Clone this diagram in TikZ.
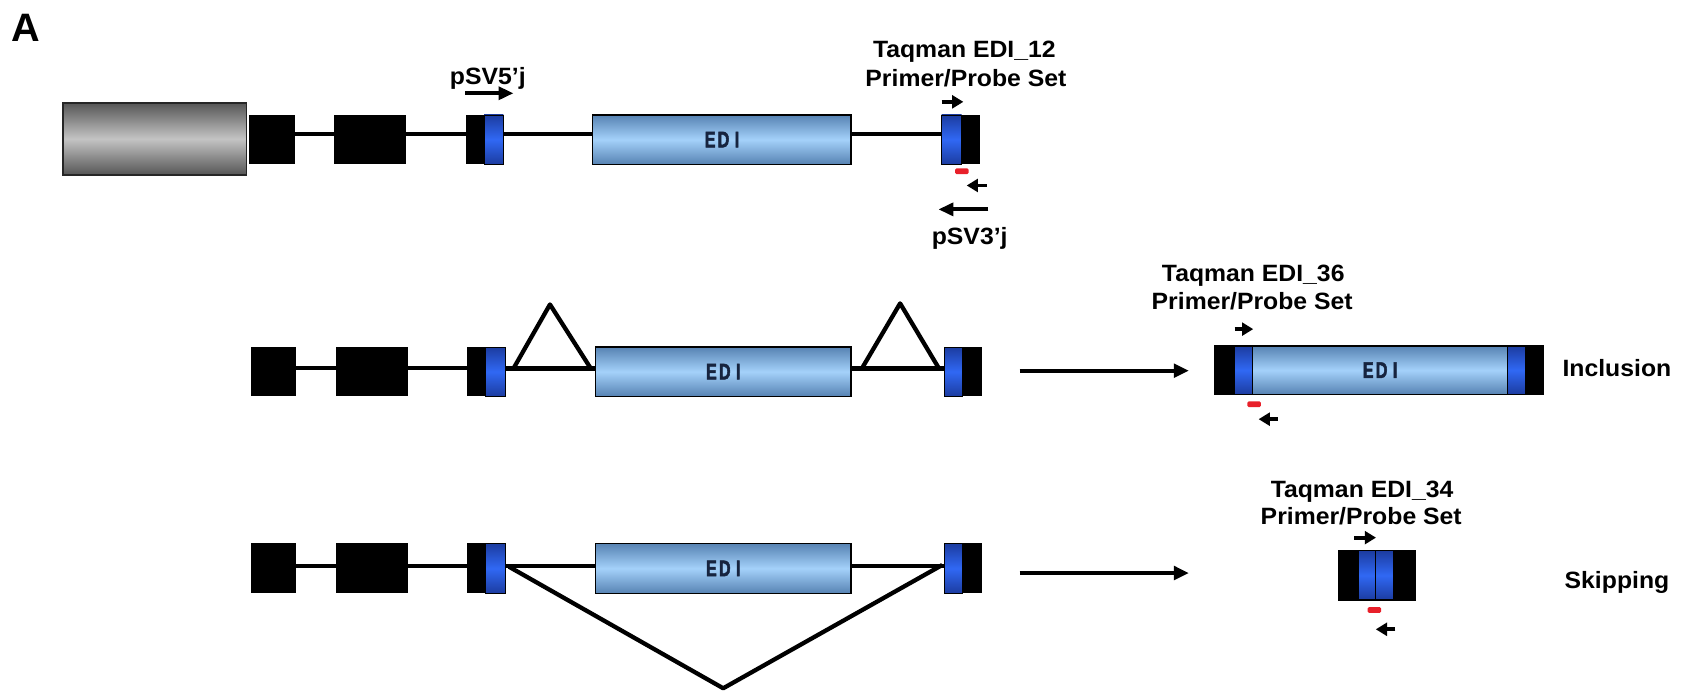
\documentclass[tikz,border=0pt]{standalone}
\usepackage{fontspec}
\setmainfont{Liberation Sans}
\newfontfamily\edifont[FakeStretch=0.72,FakeBold=2.2]{Liberation Sans Bold}
\newfontfamily\lblfont[FakeStretch=1.05]{Liberation Sans Bold}
\usetikzlibrary{arrows.meta,calc}
\definecolor{edidark}{HTML}{5783B3}
\definecolor{edilight}{HTML}{A4D1FA}
\definecolor{bluedark}{HTML}{1C3CA0}
\definecolor{bluelight}{HTML}{3068F4}
\definecolor{grdark}{HTML}{565656}
\definecolor{grlight}{HTML}{C4C4C4}
\definecolor{edtext}{HTML}{17243F}
\definecolor{probered}{HTML}{E8202A}
\begin{document}
\begin{tikzpicture}[x=1pt,y=-1pt,
  box/.style={rectangle,inner sep=0pt,outer sep=0pt},
  blk/.style={box,fill=black},
  greybox/.style={box,draw=black!85,line width=1.6pt,top color=grdark,bottom color=grdark,middle color=grlight},
  edibox/.style={box,draw=black,line width=1.2pt,top color=edidark,bottom color=edidark,middle color=edilight,
     font=\edifont\fontsize{21}{21}\selectfont,text=edtext},
  bluebox/.style={box,draw=black,line width=0.7pt,top color=bluedark,bottom color=bluedark,middle color=bluelight},
  probe/.style={box,fill=probered,minimum width=12.5pt,minimum height=5.3pt,rounded corners=1.2pt},
  intron/.style={line width=3.6pt},
  splice/.style={line width=4pt,line join=round},
  longarr/.style={line width=3.8pt,-{Triangle[length=14pt,width=12pt]}},
  bigarr/.style={line width=3.6pt,-{Triangle[length=14pt,width=12.5pt]}},
  smallarr/.style={line width=3.6pt,-{Triangle[length=10.5pt,width=12pt]}},
  lbl/.style={font=\lblfont\fontsize{22}{22}\selectfont,inner sep=0pt,outer sep=0pt,anchor=base}
]
\useasboundingbox (0,0) rectangle (1568,647);

\node[font=\bfseries\fontsize{37}{37}\selectfont,inner sep=0pt,anchor=base west] (panel) at (10.5,39) {A};

% ---------------- Row 1 ----------------
\coordinate (l1) at (0,125);
\node[greybox,minimum width=171pt,minimum height=67pt] (g1) at (144.5,129.5) {};
\node[blk,minimum width=42.3pt,minimum height=46pt] (a1) at (253.8,130.2) {};
\node[blk,minimum width=66.9pt,minimum height=46pt] (b1) at (345.4,130.2) {};
\node[blk,minimum width=35.2pt,minimum height=46pt] (c1) at (452,130.2) {};
\node[bluebox,minimum width=18pt,minimum height=46pt] (c1b) at (460.6,130.2) {};
\node[edibox,minimum width=240.9pt,minimum height=46pt] (d1) at (673.4,130.2) {E\hspace{2pt}D\hspace{5pt}I};
\node[blk,minimum width=35.8pt,minimum height=46pt] (e1) at (896.3,130.2) {};
\node[bluebox,minimum width=18.6pt,minimum height=46pt] (e1b) at (887.7,130.2) {};
\draw[intron] (a1.east |- l1) -- (b1.west |- l1);
\draw[intron] (b1.east |- l1) -- (c1.west |- l1);
\draw[intron] (c1.east |- l1) -- (d1.west |- l1);
\draw[intron] (d1.east |- l1) -- (e1.west |- l1);

\node[lbl] (p5) at (455,79) {pSV5’j};
\coordinate (p5s) at (434,87);
\coordinate (p5e) at (479,87);
\draw[longarr] (p5s) -- (p5e);

\node[lbl] (t12a) at (899.5,54) {Taqman EDI\_12};
\node[lbl] (t12b) at (901,80.5) {Primer/Probe Set};
\coordinate (f1s) at (878.4,95); \coordinate (f1e) at (898.6,95);
\draw[smallarr] (f1s) -- (f1e);
\node[probe] (r1) at (897.2,159.7) {};
\coordinate (q1s) at (920.4,173); \coordinate (q1e) at (901.7,173);
\draw[smallarr] (q1s) -- (q1e);
\coordinate (p3s) at (922,195.3); \coordinate (p3e) at (875.3,195.3);
\draw[longarr] (p3s) -- (p3e);
\node[lbl] (p3) at (904.5,228.5) {pSV3’j};

% ---------------- Row 2 ----------------
\coordinate (l2) at (0,343.6);
\node[blk,minimum width=42pt,minimum height=46pt] (a2) at (255.5,346.7) {};
\node[blk,minimum width=68pt,minimum height=46pt] (b2) at (347,346.7) {};
\node[blk,minimum width=35.5pt,minimum height=46pt] (c2) at (453.6,346.7) {};
\node[bluebox,minimum width=18.6pt,minimum height=46pt] (c2b) at (462.1,346.7) {};
\node[edibox,minimum width=238.2pt,minimum height=46pt] (d2) at (674.6,346.7) {E\hspace{2pt}D\hspace{5pt}I};
\node[blk,minimum width=35pt,minimum height=46pt] (e2) at (898.4,346.7) {};
\node[bluebox,minimum width=16.5pt,minimum height=46pt] (e2b) at (889.2,346.7) {};
\draw[intron] (a2.east |- l2) -- (b2.west |- l2);
\draw[intron] (b2.east |- l2) -- (c2.west |- l2);
\draw[splice] (c2.east |- l2) -- (d2.west |- l2);
\draw[splice] (d2.east |- l2) -- (e2.west |- l2);
\coordinate (tl1) at (479,343.6); \coordinate (tl2) at (513,284); \coordinate (tl3) at (551,343.6);
\coordinate (tr1) at (804,343.6); \coordinate (tr2) at (839.6,283); \coordinate (tr3) at (875.8,343.6);
\draw[splice] (tl1) -- (tl2) -- (tl3);
\draw[splice] (tr1) -- (tr2) -- (tr3);

\node[box,fill=black,minimum width=306.7pt,minimum height=45pt] (inc) at (1286.7,345.3) {};
\node[bluebox,minimum width=17pt,minimum height=45pt] (incl) at (1160.1,345.3) {};
\node[edibox,line width=0.8pt,minimum width=237.4pt,minimum height=45pt] (incm) at (1287.3,345.3) {E\hspace{2pt}D\hspace{5pt}I};
\node[bluebox,minimum width=17pt,minimum height=45pt] (incr) at (1414.5,345.3) {};
\draw[line width=1.2pt] (inc.north west) rectangle (inc.south east);
\coordinate (i2s) at (951,345.8); \coordinate (i2e) at (1109,345.8);
\draw[bigarr] (i2s) -- (i2e);
\node[lbl] (t36a) at (1169,262.8) {Taqman EDI\_36};
\node[lbl] (t36b) at (1168,288.6) {Primer/Probe Set};
\coordinate (f2s) at (1151.6,307); \coordinate (f2e) at (1169,307);
\draw[smallarr] (f2s) -- (f2e);
\node[probe] (r2) at (1169.8,377) {};
\coordinate (q2s) at (1192,391); \coordinate (q2e) at (1174,391);
\draw[smallarr] (q2s) -- (q2e);
\node[lbl,anchor=base west] (incl-lbl) at (1457.5,351.4) {Inclusion};

% ---------------- Row 3 ----------------
\coordinate (l3) at (0,527.7);
\node[blk,minimum width=42pt,minimum height=46.5pt] (a3) at (255.5,530.2) {};
\node[blk,minimum width=68pt,minimum height=46.5pt] (b3) at (347,530.2) {};
\node[blk,minimum width=35.5pt,minimum height=46.5pt] (c3) at (453.6,530.2) {};
\node[bluebox,minimum width=18.6pt,minimum height=46.5pt] (c3b) at (462.1,530.2) {};
\node[edibox,minimum width=238.2pt,minimum height=46.5pt] (d3) at (674.6,530.2) {E\hspace{2pt}D\hspace{5pt}I};
\node[blk,minimum width=35pt,minimum height=46.5pt] (e3) at (898.4,530.2) {};
\node[bluebox,minimum width=16.5pt,minimum height=46.5pt] (e3b) at (889.2,530.2) {};
\draw[intron] (a3.east |- l3) -- (b3.west |- l3);
\draw[intron] (b3.east |- l3) -- (c3.west |- l3);
\draw[splice] (c3.east |- l3) -- (d3.west |- l3);
\draw[splice] (d3.east |- l3) -- (e3.west |- l3);
\coordinate (v1) at (474.7,528.6); \coordinate (v2) at (674.6,642); \coordinate (v3) at (878.9,527);
\draw[splice] (v1) -- (v2) -- (v3);

\node[box,fill=black,minimum width=70.9pt,minimum height=46pt] (skp) at (1284.4,536.7) {};
\node[bluebox,minimum width=16pt,minimum height=46pt] (skpl) at (1275.1,536.7) {};
\node[bluebox,minimum width=16pt,minimum height=46pt] (skpr) at (1291.3,536.7) {};
\draw[line width=1.2pt] (skp.north west) rectangle (skp.south east);
\coordinate (s3s) at (951,534.5); \coordinate (s3e) at (1109,534.5);
\draw[bigarr] (s3s) -- (s3e);
\node[lbl] (t34a) at (1270.5,464) {Taqman EDI\_34};
\node[lbl] (t34b) at (1269.7,489) {Primer/Probe Set};
\coordinate (f3s) at (1263,501.5); \coordinate (f3e) at (1283.5,501.5);
\draw[smallarr] (f3s) -- (f3e);
\node[probe] (r3) at (1282,569) {};
\coordinate (q3s) at (1301.5,587); \coordinate (q3e) at (1283.3,587);
\draw[smallarr] (q3s) -- (q3e);
\node[lbl,anchor=base west] (skp-lbl) at (1459.5,548.8) {Skipping};
\end{tikzpicture}
\end{document}
